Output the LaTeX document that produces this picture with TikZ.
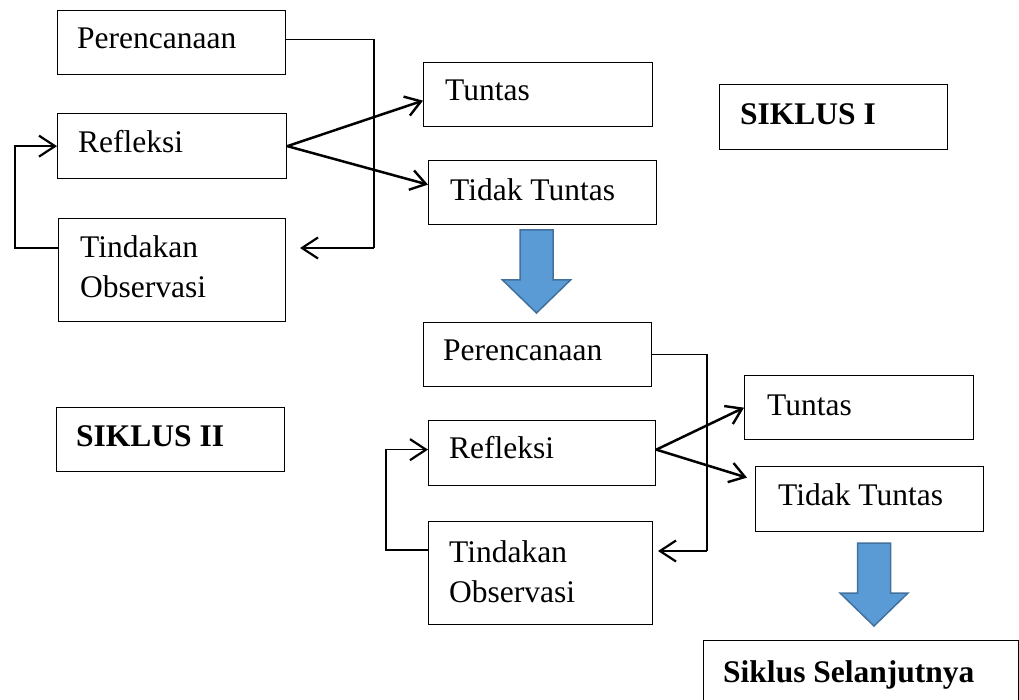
\documentclass[tikz,border=0pt]{standalone}
\usepackage{fontspec}
\setmainfont{Liberation Serif}
\usetikzlibrary{arrows.meta}
\definecolor{arrowfill}{HTML}{5B9BD5}
\definecolor{arrowline}{HTML}{41719C}
\begin{document}
\begin{tikzpicture}[x=1pt,y=-1pt,
  box/.style={draw, line width=1.3pt, inner sep=0pt, anchor=north west},
  txt/.style={anchor=base west, inner sep=0pt, align=left, font=\fontsize{31.5}{40}\selectfont},
  btxt/.style={anchor=base west, inner sep=0pt, font=\fontsize{31.5}{40}\selectfont\bfseries},
  conn/.style={line width=1.3pt},
  barb/.style={-{Straight Barb[length=16pt,width=21pt,line width=2.2pt]}},
  thickarrow/.style={line width=2.5pt, -{Straight Barb[length=15pt,width=20pt,line width=2.4pt]}},
  downarrow/.pic={\draw[line width=1.5pt, draw=arrowline, fill=arrowfill, line join=miter]
     (-16.5,0) -- (16.5,0) -- (16.5,50) -- (34,50) -- (0,83) -- (-34,50) -- (-16.5,50) -- cycle;}
]
\useasboundingbox (0,0) rectangle (1019,700);
\clip (0,0) rectangle (1019,700);

% ---- Siklus I ----
\node[box, minimum width=228pt, minimum height=64pt] (p1) at (57,10) {};
\node[txt] (p1t) at (77,49) {Perencanaan};
\node[box, minimum width=229pt, minimum height=65pt] (r1) at (57,113) {};
\node[txt] (r1t) at (78,153) {Refleksi};
\node[box, minimum width=227pt, minimum height=103pt] (t1) at (58,218) {};
\node[txt] (t1t) at (80,298) {Tindakan\\Observasi};
\node[box, minimum width=229pt, minimum height=64pt] (tu1) at (423,62) {};
\node[txt] (tu1t) at (445,101) {Tuntas};
\node[box, minimum width=228pt, minimum height=64pt] (td1) at (428,160) {};
\node[txt] (td1t) at (450,201) {Tidak Tuntas};
\node[box, minimum width=228pt, minimum height=65pt] (s1) at (719,84) {};
\node[btxt] (s1t) at (740,125) {SIKLUS I};

\coordinate (c1) at (374,248);
\coordinate (a1) at (300,248);
\draw[conn] ([yshift=3pt]p1.east) -| (c1);
\draw[conn, barb] (c1) -- (a1);
\coordinate (l1) at (15,248);
\draw[conn, barb] (t1.west |- l1) -- (l1) |- (r1.west);
\draw[thickarrow] (r1.east) -- ([yshift=-6pt]tu1.west);
\draw[thickarrow] (r1.east) -- ([yshift=8pt]td1.west);

\pic at (536.5,230) {downarrow};

% ---- Siklus II ----
\node[box, minimum width=228pt, minimum height=64pt] (s2) at (56,407) {};
\node[btxt] (s2t) at (76,446) {SIKLUS II};
\node[box, minimum width=228pt, minimum height=64pt] (p2) at (423,322) {};
\node[txt] (p2t) at (443,360) {Perencanaan};
\node[box, minimum width=227pt, minimum height=65pt] (r2) at (428,420) {};
\node[txt] (r2t) at (449,458) {Refleksi};
\node[box, minimum width=224pt, minimum height=103pt] (t2) at (428,521) {};
\node[txt] (t2t) at (449,602) {Tindakan\\Observasi};
\node[box, minimum width=229pt, minimum height=64pt] (tu2) at (744,375) {};
\node[txt] (tu2t) at (767,415) {Tuntas};
\node[box, minimum width=228pt, minimum height=65pt] (td2) at (755,466) {};
\node[txt] (td2t) at (778,505) {Tidak Tuntas};

\coordinate (c2) at (707,551);
\coordinate (a2) at (658,551);
\draw[conn] (p2.east) -| (c2);
\draw[conn, barb] (c2) -- (a2);
\coordinate (l2) at (386,550);
\draw[conn, barb] (t2.west |- l2) -- (l2) |- ([yshift=3.5pt]r2.west);
\draw[thickarrow] ([yshift=3.5pt]r2.east) -- (tu2.west);
\draw[thickarrow] ([yshift=3.5pt]r2.east) -- ([xshift=-8pt,yshift=21.5pt]td2.west);

\pic at (874,543) {downarrow};

\node[box, minimum width=315pt, minimum height=90pt] (sn) at (703,640) {};
\node[btxt] (snt) at (723,682) {Siklus Selanjutnya};
\end{tikzpicture}
\end{document}
